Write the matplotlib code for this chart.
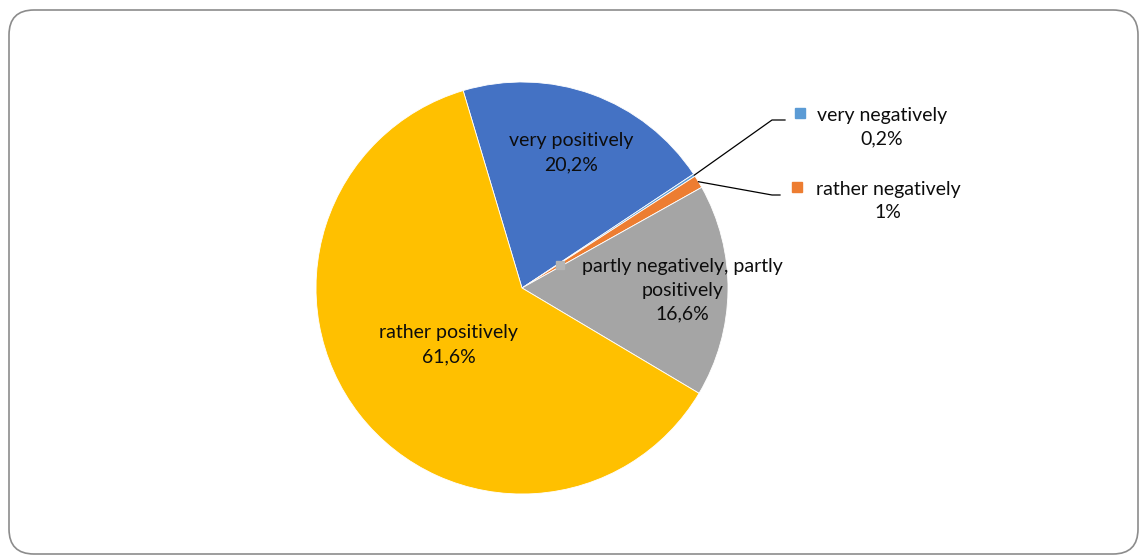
import numpy as np
import matplotlib.pyplot as plt
from matplotlib.patches import FancyBboxPatch

plt.rcParams['font.family'] = ['Lato', 'DejaVu Sans']

labels = ['very positively', 'very negatively', 'rather negatively',
          'partly negatively, partly\npositively', 'rather positively']
values = [20.2, 0.2, 1.0, 16.6, 61.6]
pct_text = ['20,2%', '0,2%', '1%', '16,6%', '61,6%']
colors = ['#4472C4', '#5B9BD5', '#ED7D31', '#A5A5A5', '#FFC000']

W, H = 1146, 555
fig = plt.figure(figsize=(W / 100, H / 100), dpi=100)
ax = fig.add_axes([0, 0, 1, 1])

# rounded frame around the chart
frame = FancyBboxPatch((9, 1), 1129, 544, boxstyle='round,pad=0,rounding_size=25',
                       fc='white', ec='#8c8c8c', lw=1.2, zorder=0)
ax.add_patch(frame)

cx, cy, R = 522, H - 288, 206
start = 106.6
wedges, _ = ax.pie(values, colors=colors, startangle=start, counterclock=False,
                   center=(cx, cy), radius=R,
                   wedgeprops=dict(edgecolor='white', linewidth=0.6))
ax.set_xlim(0, W)
ax.set_ylim(0, H)
ax.set_aspect('equal')
ax.axis('off')

fs = 14
ls = 1.5
tc = '#0d0d0d'
# inside labels: distance as fraction of radius
inside = {0: 0.70, 3: 0.78, 4: 0.45}
for i, frac in inside.items():
    w = wedges[i]
    mid = np.deg2rad((w.theta1 + w.theta2) / 2)
    x = cx + frac * R * np.cos(mid)
    y = cy + frac * R * np.sin(mid)
    ax.text(x, y, labels[i] + '\n' + pct_text[i], ha='center', va='center',
            fontsize=fs, color=tc, linespacing=ls, zorder=5)

# small key marker of the grey slice label
ax.add_patch(plt.Rectangle((556, H - 269), 8, 8, color='#b4b4b4', zorder=4))

# outside labels with leader lines
outside = {1: ((772, H - 120), (785, H - 120), (882, H - 127), (800, H - 113)),
           2: ((772, H - 195), (780, H - 195), (888, H - 201), (797, H - 187))}
for i, (elbow, end, txt, key) in outside.items():
    w = wedges[i]
    mid = np.deg2rad((w.theta1 + w.theta2) / 2)
    x0 = cx + R * np.cos(mid)
    y0 = cy + R * np.sin(mid)
    ax.plot([x0, elbow[0], end[0]], [y0, elbow[1], end[1]], color='black', lw=0.9, zorder=5)
    ax.add_patch(plt.Rectangle((key[0] - 5, key[1] - 5), 10, 10, color=colors[i], zorder=5))
    ax.text(txt[0], txt[1], labels[i] + '\n' + pct_text[i], ha='center', va='center',
            fontsize=fs, color=tc, linespacing=ls, zorder=5)

fig.savefig('out.png', dpi=100)
